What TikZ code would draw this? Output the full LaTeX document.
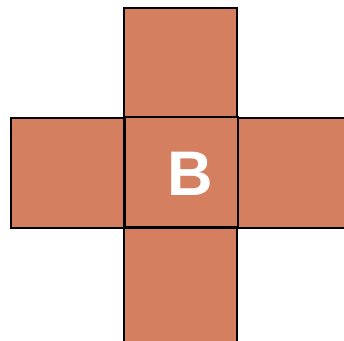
\documentclass[tikz,border=0pt]{standalone}
\usepackage{fontspec}
\setmainfont{Liberation Sans}
\definecolor{tile}{RGB}{212,128,96}
\begin{document}
\begin{tikzpicture}[x=1pt,y=1pt,
  face/.style={draw=black,line width=2.2pt,fill=tile}]
\useasboundingbox (0,0) rectangle (344,340);
\clip (0,0) rectangle (344,340);
\fill[white] (0,0) rectangle (344,340);
\path[face] (124,222) rectangle (237,332);
\path[face] (11,112) rectangle (124,222);
\path[face] (237,112) rectangle (350,222);
\path[face] (124,-10) rectangle (237,112);
\node[face,minimum width=113pt,minimum height=110pt,anchor=south west,inner sep=0pt] (B) at (124,112) {};
\node[text=white,font=\bfseries\fontsize{63}{63}\selectfont,inner sep=0pt] (Bl) at (190.5,166.5) {B};
\end{tikzpicture}
\end{document}
